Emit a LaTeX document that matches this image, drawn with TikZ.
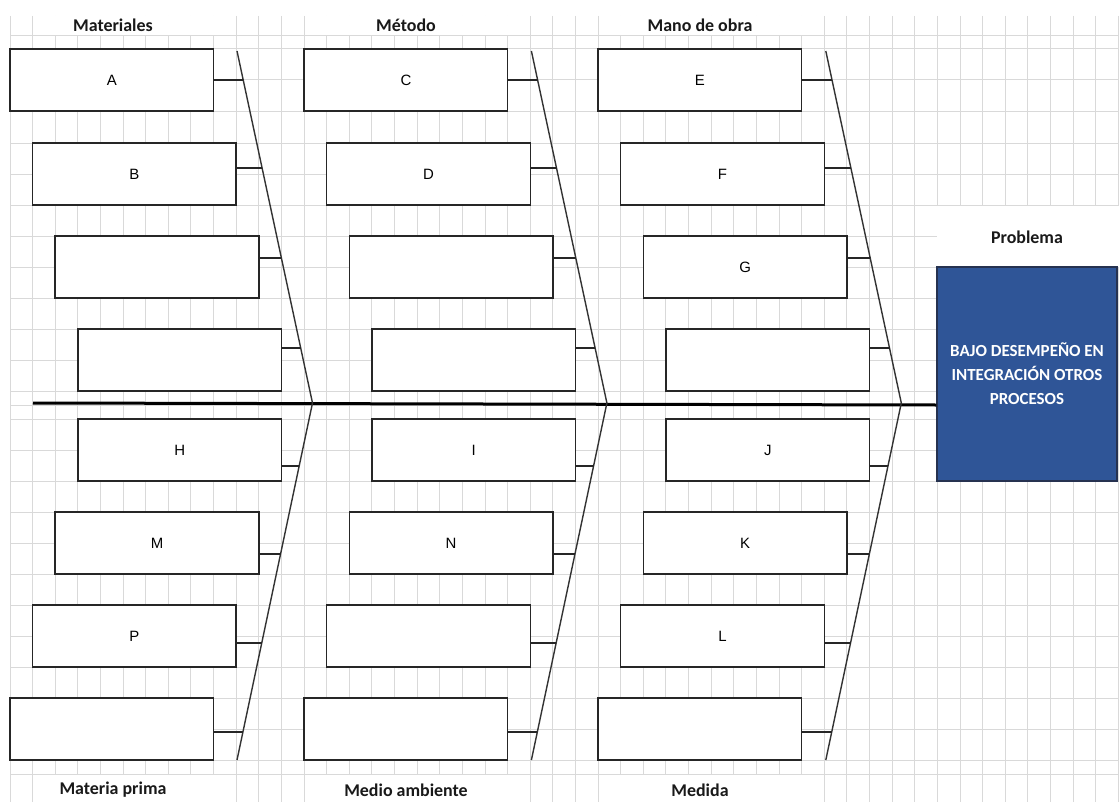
\documentclass[tikz,border=0pt]{standalone}
\usepackage{fontspec}
\setmainfont{Liberation Sans}
\newfontfamily\calibri{Carlito}
\usetikzlibrary{calc}
\definecolor{gridgray}{RGB}{217,217,217}
\definecolor{probblue}{RGB}{47,85,151}
\definecolor{probedge}{RGB}{38,50,80}

\begin{document}
\begin{tikzpicture}[x=1bp, y=-1bp,
        cause/.style={rectangle, draw=black!85, fill=white, line width=1.5bp, minimum width=203.6bp, minimum height=62bp, inner sep=0pt, font=\fontsize{15}{16}\selectfont},
        bone/.style={draw=black!80, line width=1.4bp},
        twig/.style={draw=black!85, line width=1.4bp},
        spine/.style={draw=black, line width=3bp},
        head/.style={font=\calibri\bfseries\fontsize{18}{20}\selectfont, text=black!90},
        problem/.style={rectangle, draw=probedge, fill=probblue, line width=1.5bp, minimum width=180bp, minimum height=214bp, align=center, text=white, font=\calibri\bfseries\fontsize{17}{24}\selectfont},
        gridline/.style={draw=gridgray, line width=1bp}
    ]
        % Background and sheet grid
        \useasboundingbox[fill=white] (0,0) rectangle (1119,802);
        \foreach \k in {0,...,49}
            \draw[gridline] ({10+22.62*\k},16) -- ({10+22.62*\k},802);
        \foreach \y in {36,49,80,111.5,143,174,205,236,267,298,329,360,391,405,419,450,481,512,543,574,605,636,667,698,729,760,774}
            \draw[gridline] (10,\y) -- (1119,\y);

        % Label cells
        \fill[white] (33.5,16) rectangle (213.5,35.5);
        \fill[white] (304.5,16) rectangle (507.5,35.5);
        \fill[white] (598.5,16) rectangle (801.5,35.5);
        \fill[white] (33.5,774.5) rectangle (213.5,802);
        \fill[white] (304.5,774.5) rectangle (507.5,802);
        \fill[white] (598.5,774.5) rectangle (801.5,802);
        \fill[white] (937,205.5) rectangle (1119,267);

        % Headings
        \node[head] (hmat) at (113,25) {Materiales};
        \node[head] (hmet) at (406,25) {Método};
        \node[head] (hman) at (700,25) {Mano de obra};
        \node[head] (hmp) at (113,790) {Materia prima};
        \node[head] (hma) at (406,790) {Medio ambiente};
        \node[head] (hmd) at (700,790) {Medida};
        \node[head] (hprob) at (1027,237) {Problema};

        % Problem
        \node[problem] (prob) at (1027,374) {BAJO DESEMPEÑO EN\\INTEGRACIÓN OTROS\\PROCESOS};

        % Spine
        \coordinate (tail) at (33,403);
        \draw[spine] (tail) -- (prob.west |- 0,405);

        % Causes, Materiales
        \node[cause] (mat1) at (111.8,80) {A};
        \node[cause] (mat2) at (134.4,174) {B};
        \node[cause] (mat3) at (157.0,267) {};
        \node[cause] (mat4) at (179.7,360) {};
        \node[cause] (mat5) at (179.7,450) {H};
        \node[cause] (mat6) at (157.0,543) {M};
        \node[cause] (mat7) at (134.4,636) {P};
        \node[cause] (mat8) at (111.8,729) {};

        % Causes, Metodo
        \node[cause] (met1) at (405.9,80) {C};
        \node[cause] (met2) at (428.5,174) {D};
        \node[cause] (met3) at (451.1,267) {};
        \node[cause] (met4) at (473.7,360) {};
        \node[cause] (met5) at (473.7,450) {I};
        \node[cause] (met6) at (451.1,543) {N};
        \node[cause] (met7) at (428.5,636) {};
        \node[cause] (met8) at (405.9,729) {};

        % Causes, Mano de obra
        \node[cause] (man1) at (699.9,80) {E};
        \node[cause] (man2) at (722.5,174) {F};
        \node[cause] (man3) at (745.2,267) {G};
        \node[cause] (man4) at (767.8,360) {};
        \node[cause] (man5) at (767.8,450) {J};
        \node[cause] (man6) at (745.2,543) {K};
        \node[cause] (man7) at (722.5,636) {L};
        \node[cause] (man8) at (699.9,729) {};

        % Bones and twigs
        \foreach \c/\dx in {mat/0, met/294.4, man/588.8} {
            \coordinate (\c t) at (237+\dx,51);
            \coordinate (\c m) at (312.5+\dx,403);
            \coordinate (\c u) at (237+\dx,760);
            \draw[bone] (\c t) -- (\c m) -- (\c u);
            \foreach \r/\y in {1/80, 2/168, 3/258, 4/348} {
                \coordinate (\c k\r) at ($(\c t)!{(\y-51)/352}!(\c m)$);
                \draw[twig] (\c\r.east |- \c k\r) -- (\c k\r);
            }
            \foreach \r/\y in {5/466, 6/554, 7/643, 8/732} {
                \coordinate (\c k\r) at ($(\c u)!{(760-\y)/357}!(\c m)$);
                \draw[twig] (\c\r.east |- \c k\r) -- (\c k\r);
            }
        }
    \end{tikzpicture}
\end{document}
